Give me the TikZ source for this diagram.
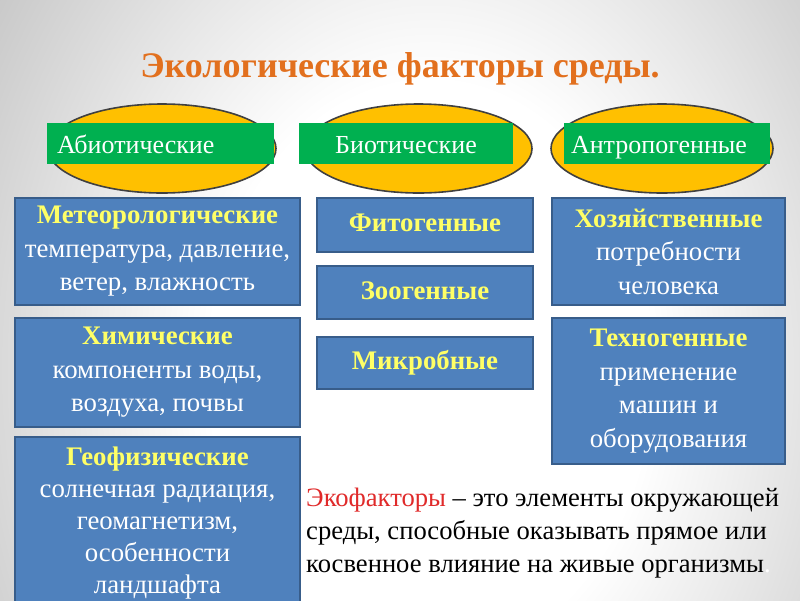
\documentclass[tikz,border=0pt]{standalone}
\usepackage{fontspec}
\setmainfont{Liberation Serif}
\usetikzlibrary{shapes.geometric}
\definecolor{ttl}{HTML}{E2701E}
\definecolor{gold}{HTML}{FFC000}
\definecolor{grn}{HTML}{00B050}
\definecolor{bfill}{HTML}{4F81BD}
\definecolor{bline}{HTML}{385D8A}
\definecolor{yel}{HTML}{FFFF66}
\definecolor{redt}{HTML}{E02A2A}
\pgfdeclareradialshading{bgshade}{\pgfpoint{0bp}{0bp}}{color(0bp)=(white); color(12bp)=(white); color(19bp)=(black!9); color(31bp)=(black!25); color(44bp)=(black!38); color(47bp)=(black!44); color(70bp)=(black!42)}
\tikzset{
  ell/.style={ellipse, draw=black!75, line width=1.6pt, fill=gold, inner sep=0pt},
  glabel/.style={rectangle, fill=grn, inner sep=0pt, text=white, text height=20.5pt, text depth=1.5pt, font=\fontsize{26}{30}\selectfont},
  bbox/.style={rectangle, draw=bline, line width=1.6pt, fill=bfill, inner sep=0pt, text=white, align=center, font=\fontsize{26.8}{33.5}\selectfont}
}
\newcommand{\hdg}[1]{\textcolor{yel}{\bfseries #1}}
\begin{document}
\begin{tikzpicture}[x=1pt,y=-1pt]
\useasboundingbox (0,0) rectangle (800,600);
\begin{scope}
\clip (0,0) rectangle (800,600);
\shade[shading=bgshade] (-30,-230) rectangle (890,970);
\end{scope}

\node[text=ttl, font=\fontsize{36}{42}\selectfont\bfseries] (title) at (400,69) {Экологические факторы среды.};

\node[ell, minimum width=228, minimum height=89] (e1) at (162,148.5) {};
\node[ell, minimum width=227, minimum height=89] (e2) at (418.5,148.5) {};
\node[ell, minimum width=222, minimum height=89] (e3) at (662,148.5) {};

\node[glabel, minimum width=227, minimum height=41, text width=207, align=left] (g1) at (160.5,143.5) {Абиотические};
\node[glabel, minimum width=214, minimum height=41, align=center] (g2) at (406,143.5) {Биотические};
\node[glabel, minimum width=206, minimum height=41, text width=192, align=left] (g3) at (667,143.5) {Антропогенные};

\node[bbox, minimum width=285, minimum height=107] (met) at (157.5,251.5) {\hdg{Метеорологические}\\температура, давление,\\ветер, влажность};
\node[bbox, minimum width=285, minimum height=109] (chem) at (157.5,372.5) {\hdg{Химические}\\компоненты воды,\\воздуха, почвы};
\node[bbox, minimum width=285, minimum height=172, font=\fontsize{26.8}{32}\selectfont] (geo) at (157.5,523) {\hdg{Геофизические}\\солнечная радиация,\\геомагнетизм,\\особенности\\ландшафта};

\node[bbox, minimum width=216, minimum height=54] (phy) at (425,225) {\raisebox{5pt}{\hdg{Фитогенные}}};
\node[bbox, minimum width=216, minimum height=53] (zoo) at (425,292.5) {\raisebox{3pt}{\hdg{Зоогенные}}};
\node[bbox, minimum width=216, minimum height=52] (mic) at (425,363) {\raisebox{5pt}{\hdg{Микробные}}};

\node[bbox, minimum width=233, minimum height=107] (hoz) at (668.5,251.5) {\hdg{Хозяйственные}\\потребности\\человека};
\node[bbox, minimum width=233, minimum height=146] (tech) at (668.5,391) {\hdg{Техногенные}\\применение\\машин и\\оборудования};

\node[anchor=west, align=left, inner sep=0pt, font=\fontsize{26.6}{33}\selectfont] (def) at (306,533) {\textcolor{redt}{Экофакторы} – это элементы окружающей\\среды, способные оказывать прямое или\\косвенное влияние на живые организмы\textcolor{white}{.}};
\end{tikzpicture}
\end{document}
